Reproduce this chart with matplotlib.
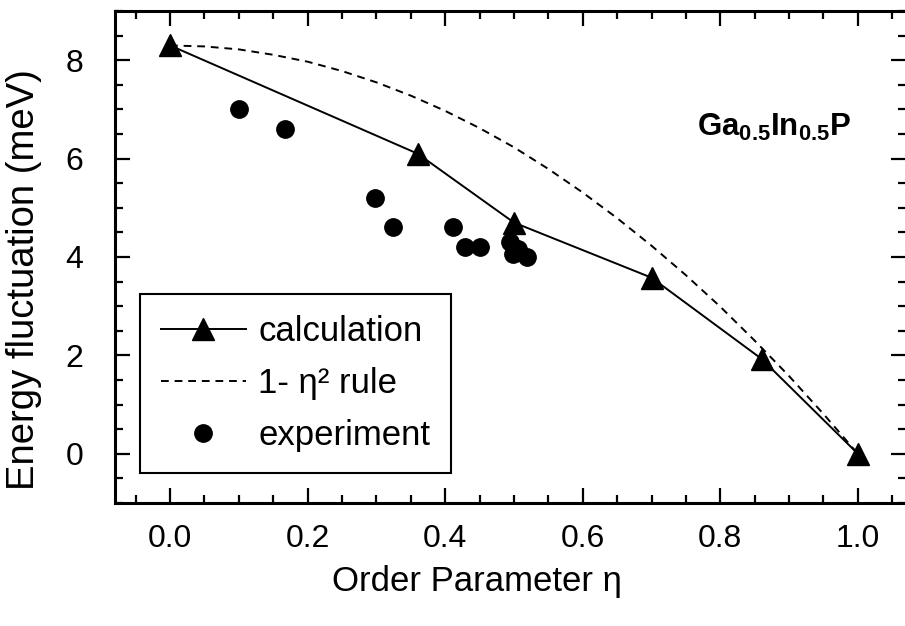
import matplotlib
matplotlib.use("Agg")
import matplotlib.pyplot as plt
from matplotlib.ticker import MultipleLocator

plt.rcParams['font.family'] = ['Liberation Sans', 'DejaVu Sans']
plt.rcParams['mathtext.fontset'] = 'custom'
plt.rcParams['mathtext.rm'] = 'Liberation Sans'
plt.rcParams['mathtext.bf'] = 'Liberation Sans:bold'
plt.rcParams['mathtext.it'] = 'Liberation Sans:italic'

# calculation (triangles, solid line)
calc_eta = [0.0, 0.36, 0.50, 0.70, 0.86, 1.0]
calc_E = [8.3, 6.1, 4.7, 3.58, 1.93, 0.0]

# 1 - eta^2 rule (dashed)
rule_eta = [0.0, 0.05, 0.1, 0.15, 0.2, 0.25, 0.3, 0.35, 0.4, 0.45, 0.5,
            0.55, 0.6, 0.65, 0.7, 0.75, 0.8, 0.85, 0.9, 0.95, 1.0]
rule_E = [8.30, 8.28, 8.22, 8.11, 7.97, 7.78, 7.55, 7.28, 6.97, 6.62, 6.23,
          5.79, 5.31, 4.79, 4.23, 3.63, 2.99, 2.30, 1.58, 0.81, 0.0]

# experiment (circles)
exp_eta = [0.10, 0.167, 0.298, 0.324, 0.411, 0.429, 0.451, 0.494, 0.506, 0.499, 0.519]
exp_E = [7.0, 6.6, 5.2, 4.6, 4.6, 4.2, 4.2, 4.3, 4.17, 4.07, 3.99]

xticks = [0.0, 0.2, 0.4, 0.6, 0.8, 1.0]
yticks = [0, 2, 4, 6, 8]

fig = plt.figure(figsize=(9.05, 6.26), dpi=100)
ax = fig.add_axes([115/905, 1 - 503/626, 791/905, 492/626])

ax.plot(rule_eta, rule_E, color='black', lw=1.4, ls=(0, (4, 3)),
        label='1- η² rule', zorder=2)
ax.plot(calc_eta, calc_E, color='black', lw=1.4, marker='^', ms=16.5,
        label='calculation', zorder=3)
ax.plot(exp_eta, exp_E, ls='none', color='black', marker='o', ms=12.5,
        label='experiment', zorder=4)

ax.set_xlim(-0.08, 1.07)
ax.set_ylim(-1, 9)
ax.set_xticks(xticks)
ax.set_xticklabels([f"{t:.1f}" for t in xticks])
ax.set_yticks(yticks)
ax.set_yticklabels([str(t) for t in yticks])
ax.xaxis.set_minor_locator(MultipleLocator(0.05))
ax.yaxis.set_minor_locator(MultipleLocator(0.5))
ax.tick_params(which='both', direction='in', top=True, right=True, width=1.6)
ax.tick_params(which='major', length=10.5, labelsize=23)
ax.tick_params(which='minor', length=6)
ax.tick_params(axis='x', which='major', pad=15)
ax.tick_params(axis='y', which='major', pad=23)
for s in ax.spines.values():
    s.set_linewidth(2.2)

ax.set_xlabel('Order Parameter η', fontsize=25)
ax.xaxis.set_label_coords((477 - 115) / 791, -(598 - 503) / 492)
ax.xaxis.label.set_va('bottom')
ax.set_ylabel('Energy fluctuation (meV)', fontsize=27.5)
ax.yaxis.set_label_coords(-(115 - 42) / 791, (503 - 280) / 492)

ax.text(0.99, 6.64, r'$\mathbf{Ga_{0.5}In_{0.5}P}$', fontsize=22.5,
        ha='right', va='center')

h, l = ax.get_legend_handles_labels()
order = [1, 0, 2]
leg = ax.legend([h[i] for i in order], [l[i] for i in order],
                loc='lower left', bbox_to_anchor=((140 - 115) / 791, (503 - 473) / 492),
                borderaxespad=0, fontsize=25, frameon=True, fancybox=False,
                edgecolor='black', framealpha=1, handlelength=2.45,
                handletextpad=0.35, labelspacing=0.55, borderpad=0.6)
leg.get_frame().set_linewidth(1.5)

fig.savefig('out.png', dpi=100)
